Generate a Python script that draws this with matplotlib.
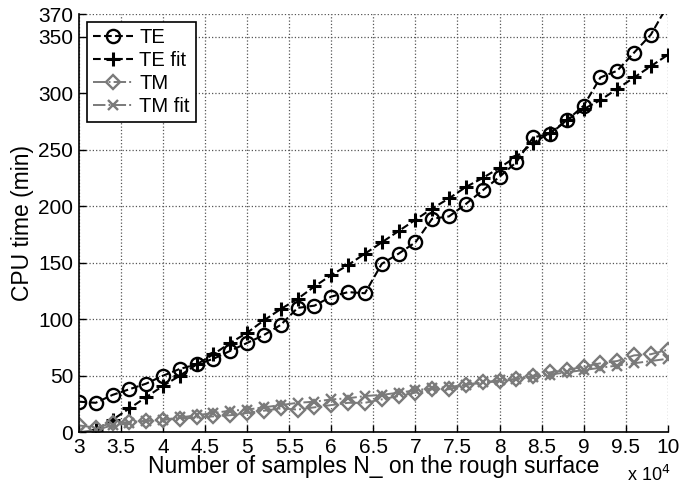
import numpy as np
import matplotlib
matplotlib.use('Agg')
import matplotlib.pyplot as plt

plt.rcParams['font.family'] = ['Liberation Sans', 'DejaVu Sans']

# 样本数 (x 10^4)
N = [3.0, 3.2, 3.4, 3.6, 3.8, 4.0, 4.2, 4.4, 4.6, 4.8,
     5.0, 5.2, 5.4, 5.6, 5.8, 6.0, 6.2, 6.4, 6.6, 6.8,
     7.0, 7.2, 7.4, 7.6, 7.8, 8.0, 8.2, 8.4, 8.6, 8.8,
     9.0, 9.2, 9.4, 9.6, 9.8, 10.0]

te = [27, 26, 33, 38, 43, 50, 56, 60, 65, 72,
      79, 86, 95, 110, 112, 120, 124, 123, 149, 158,
      168, 189, 191, 202, 214, 226, 239, 261, 264, 276,
      289, 314, 320, 336, 352, 378]

te_fit = [-8, 2, 11, 21, 31, 41, 50, 60, 69, 79,
          88, 99, 109, 118, 129, 139, 148, 158, 168, 178,
          188, 198, 207, 217, 225, 234, 244, 256, 265, 276,
          286, 294, 304, 314, 324, 334]

tm = [6, 4, 8, 9, 10, 11, 12, 13, 14, 15,
      17, 19, 21, 20, 22, 24, 26, 26, 29, 32,
      35, 38, 38, 42, 44, 45, 47, 50, 53, 55,
      58, 61, 63, 68, 69, 73]

tm_fit = [0, 2, 6, 8, 10, 11, 13, 15, 17, 19,
          20, 22, 24, 26, 27, 29, 30, 32, 33, 35,
          37, 39, 40, 42, 44, 46, 47, 49, 51, 53,
          55, 57, 59, 61, 63, 65]

xticks = [3, 3.5, 4, 4.5, 5, 5.5, 6, 6.5, 7, 7.5, 8, 8.5, 9, 9.5, 10]
xticklabels = ['3', '3.5', '4', '4.5', '5', '5.5', '6', '6.5', '7', '7.5',
               '8', '8.5', '9', '9.5', '10']
yticks = [0, 50, 100, 150, 200, 250, 300, 350, 370]

gray = '#7a7a7a'

fig = plt.figure(figsize=(6.8, 4.9), dpi=100)
ax = fig.add_axes([0.116, 0.118, 0.866, 0.853])

ax.plot(N, te, color='black', linestyle='--', linewidth=1.5, marker='o',
        markersize=9.5, markerfacecolor='none', markeredgewidth=1.7, label='TE')
ax.plot(N, te_fit, color='black', linestyle='--', linewidth=1.5, marker='+',
        markersize=10, markeredgewidth=2.2, label='TE fit')
ax.plot(N, tm, color=gray, linestyle='-.', linewidth=1.4, marker='D',
        markersize=7.5, markerfacecolor='none', markeredgewidth=1.7, label='TM')
ax.plot(N, tm_fit, color=gray, linestyle='-.', linewidth=1.4, marker='x',
        markersize=7, markeredgewidth=1.7, label='TM fit')

ax.set_xlim(3, 10)
ax.set_ylim(0, 370)
ax.set_xticks(xticks)
ax.set_xticklabels(xticklabels)
ax.set_yticks(yticks)
ax.tick_params(direction='in', labelsize=15, length=5, width=1, pad=4)
ax.grid(True, linestyle=':', color='#555555', linewidth=0.9)

for s in ['top', 'right']:
    ax.spines[s].set_visible(False)
for s in ['left', 'bottom']:
    ax.spines[s].set_linewidth(1.2)

ax.set_xlabel('Number of samples N_ on the rough surface', fontsize=16.5, labelpad=-1)
ax.set_ylabel('CPU time (min)', fontsize=16.5, labelpad=3)
fig.text(0.922, 0.018, 'x 10$^4$', fontsize=13)

leg = ax.legend(loc='upper left', fontsize=14.5, handlelength=2.0, handletextpad=0.3,
                borderpad=0.3, labelspacing=0.2, fancybox=False, framealpha=1,
                edgecolor='black', borderaxespad=0.4)
leg.get_frame().set_linewidth(1.2)

plt.savefig('out.png', dpi=100)
